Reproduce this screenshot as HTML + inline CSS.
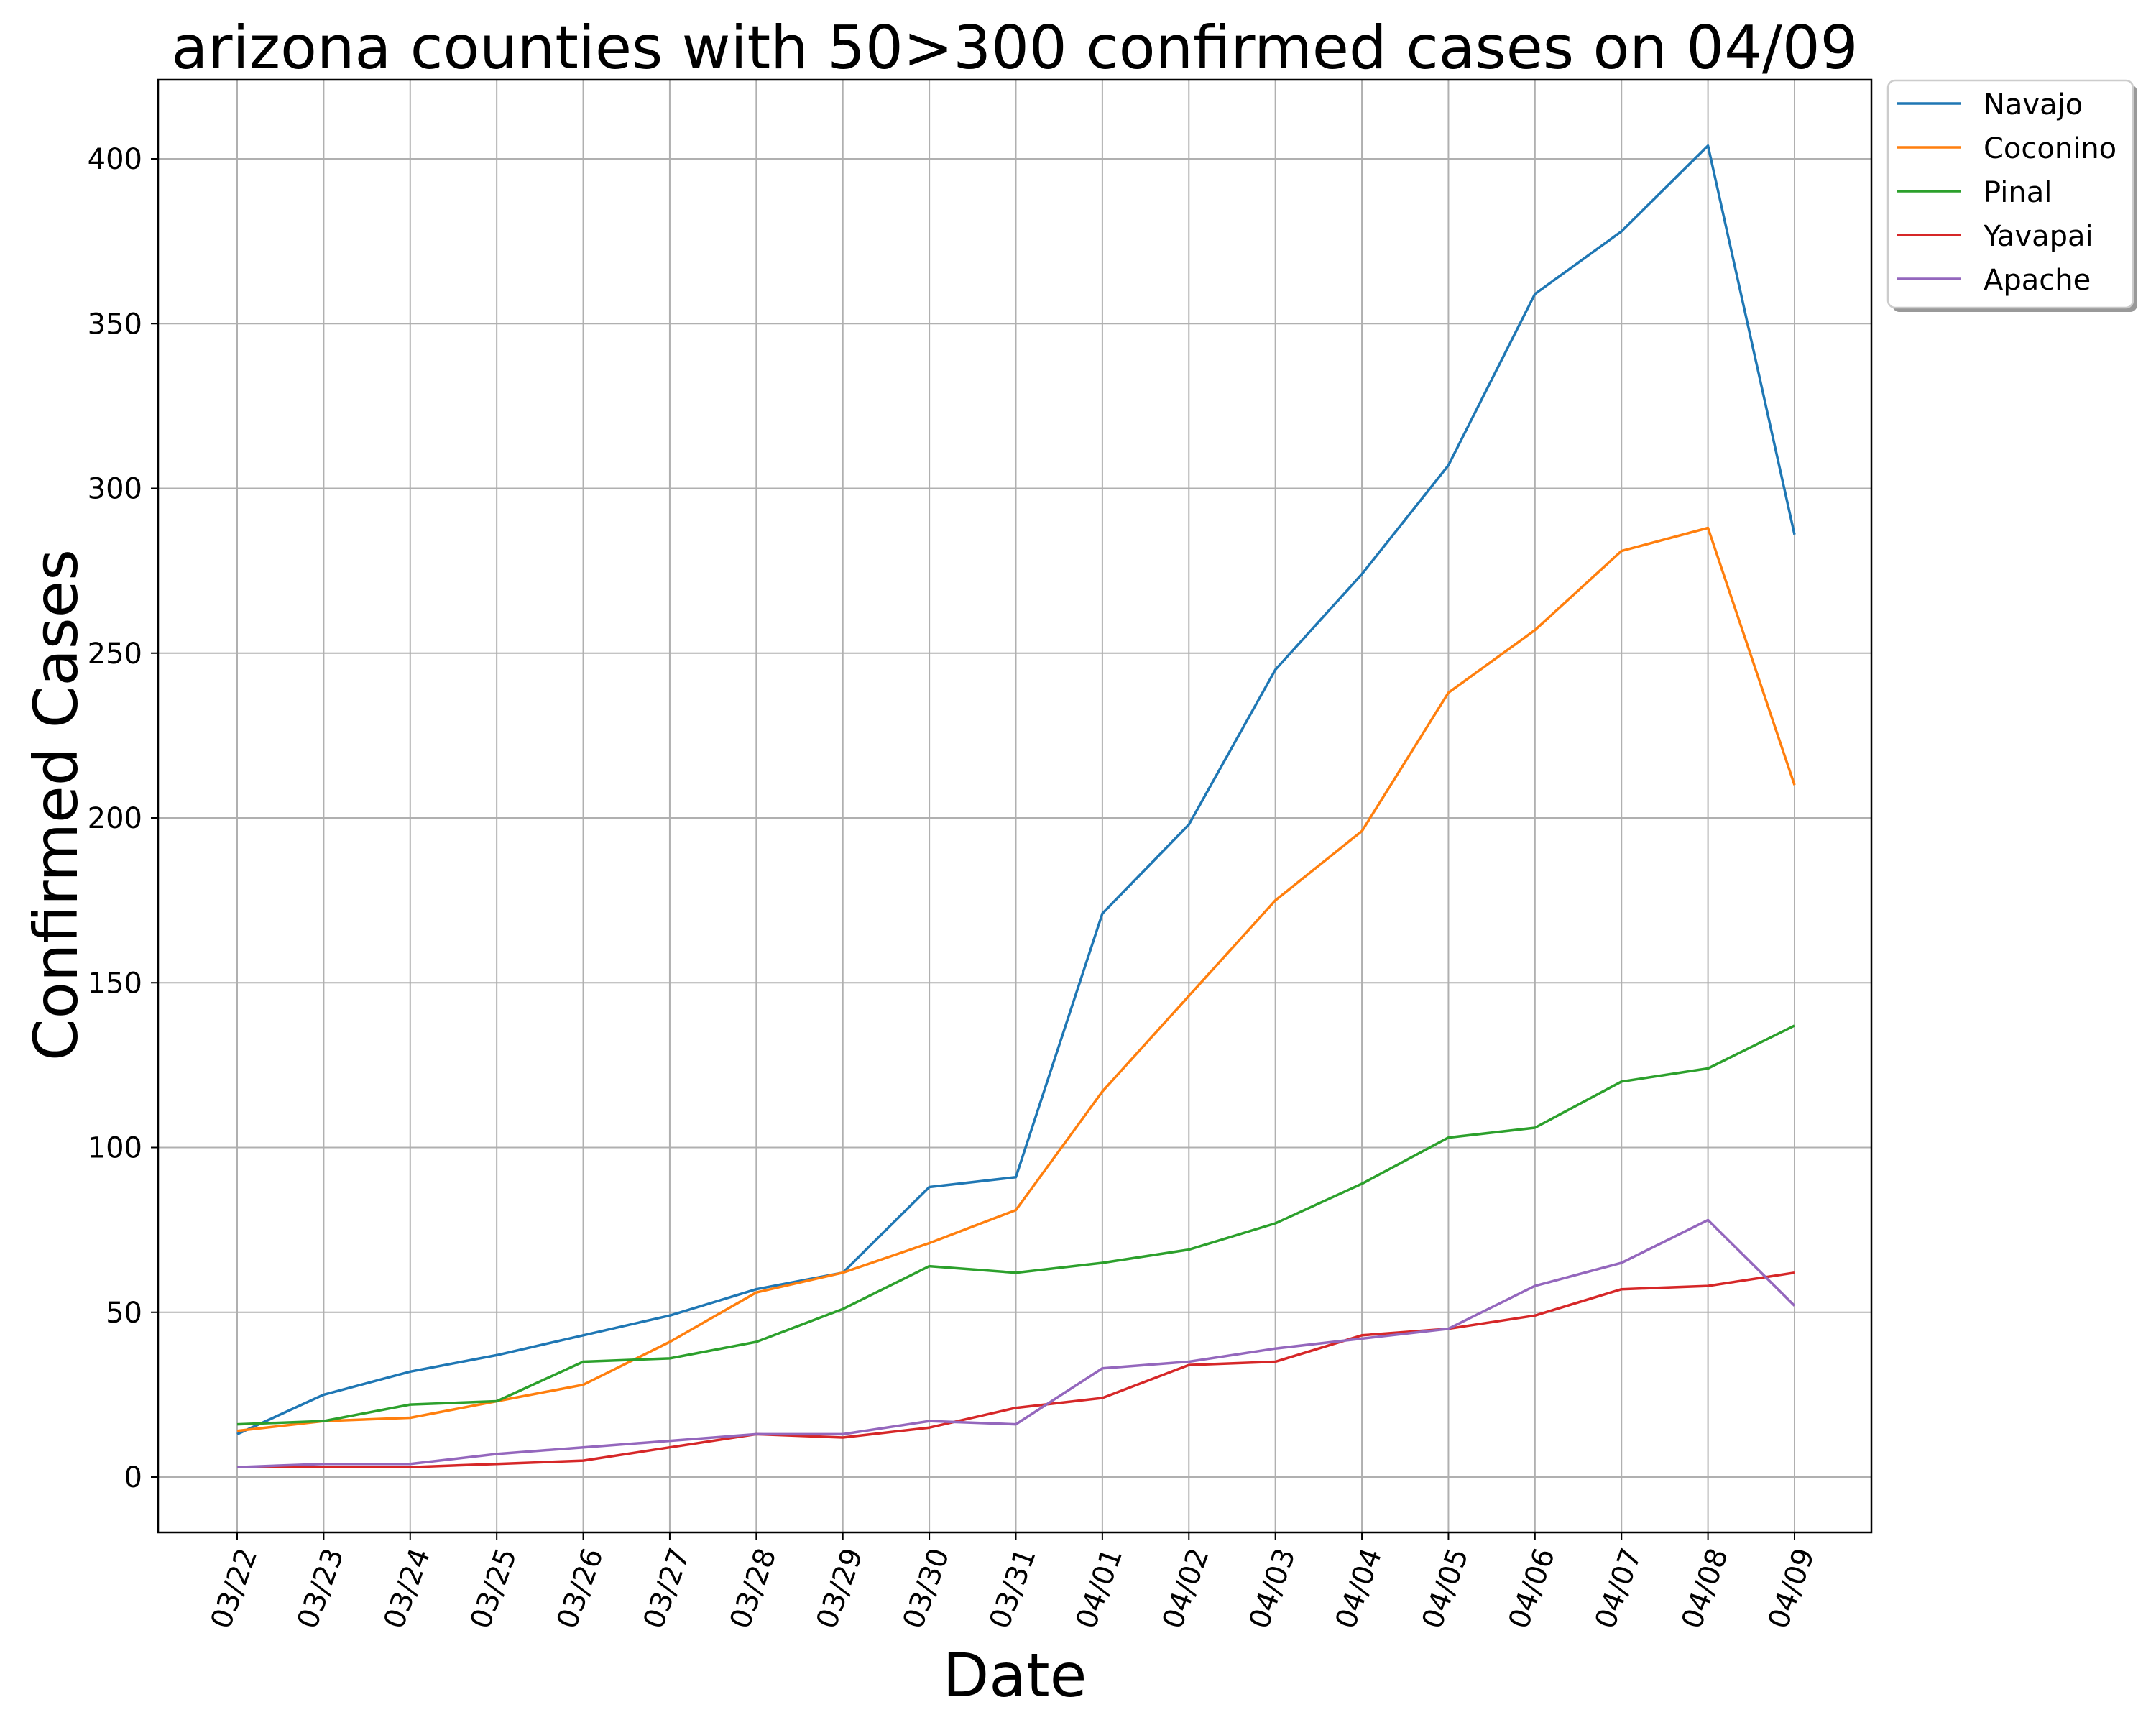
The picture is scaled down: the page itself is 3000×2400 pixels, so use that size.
<!DOCTYPE html>
<html><head><meta charset="utf-8"><style>
html,body{margin:0;padding:0;background:#fff;}
svg{display:block;font-family:"DejaVu Sans","Liberation Sans",sans-serif;}
</style></head><body>
<svg id="chart" width="3000" height="2400" viewBox="0 0 3000 2400" xmlns="http://www.w3.org/2000/svg">
<rect width="3000" height="2400" fill="#fff"/>
<text x="1412" y="95" font-size="83" text-anchor="middle">arizona counties with 50&gt;300 confirmed cases on 04/09</text>
<g id="grid"></g>
<g id="series"></g>
<rect x="220" y="111" width="2384" height="2021" fill="none" stroke="#000" stroke-width="2.5"/>
<g id="ticks"></g>
<text x="1412" y="2360" font-size="84" text-anchor="middle">Date</text>
<text transform="translate(78,1120) rotate(-90)" font-size="84" text-anchor="middle" dominant-baseline="central">Confirmed Cases</text>
<g id="legend">
<rect x="2633" y="118" width="341" height="316" rx="10" fill="#999"/>
<rect x="2627" y="112" width="341" height="316" rx="10" fill="#fff" stroke="#ccc" stroke-width="2.5"/>
</g>
</svg>
<script>
const dates = ["03/22","03/23","03/24","03/25","03/26","03/27","03/28","03/29","03/30","03/31","04/01","04/02","04/03","04/04","04/05","04/06","04/07","04/08","04/09"];
const seriesNames = ["Navajo","Coconino","Pinal","Yavapai","Apache"];
const navajo = [13,25,32,37,43,49,57,62,88,91,171,198,245,274,307,359,378,404,286];
const coconino = [14,17,18,23,28,41,56,62,71,81,117,146,175,196,238,257,281,288,210];
const pinal = [16,17,22,23,35,36,41,51,64,62,65,69,77,89,103,106,120,124,137];
const yavapai = [3,3,3,4,5,9,13,12,15,21,24,34,35,43,45,49,57,58,62];
const apache = [3,4,4,7,9,11,13,13,17,16,33,35,39,42,45,58,65,78,52];
const yTicks = [0,50,100,150,200,250,300,350,400];

const NS="http://www.w3.org/2000/svg";
const colors=["#1f77b4","#ff7f0e","#2ca02c","#d62728","#9467bd"];
const allSeries=[navajo,coconino,pinal,yavapai,apache];
const x0=330, x1=2497;
function xs(i){return x0+(x1-x0)*i/(dates.length-1);}
const yZero=2055, y400=221;
function ys(v){return yZero+(y400-yZero)*v/400;}
function mk(tag,attrs,parent){const e=document.createElementNS(NS,tag);for(const k in attrs)e.setAttribute(k,attrs[k]);parent.appendChild(e);return e;}
const grid=document.getElementById('grid'),ticks=document.getElementById('ticks'),ser=document.getElementById('series'),leg=document.getElementById('legend');
dates.forEach((d,i)=>{
  const x=xs(i);
  const g=mk('line',{x1:x,y1:111,x2:x,y2:2132,stroke:'#b0b0b0','stroke-width':2},grid);
  
  
  const t=mk('line',{x1:x,y1:2132,x2:x,y2:2142,stroke:'#000','stroke-width':2},ticks);
  
  
  const lb=mk('text',{transform:`translate(${x-4},${2210}) rotate(-70)`,'font-size':40,'text-anchor':'middle','dominant-baseline':'central'},ticks);
  lb.textContent=d;
  
  
});
yTicks.forEach(v=>{
  const y=ys(v);
  const g=mk('line',{x1:220,y1:y,x2:2604,y2:y,stroke:'#b0b0b0','stroke-width':2},grid);
  
  
  const t=mk('line',{x1:210,y1:y,x2:220,y2:y,stroke:'#000','stroke-width':2},ticks);
  
  
  const lb=mk('text',{x:198,y:y+14,'font-size':40,'text-anchor':'end'},ticks);
  lb.textContent=v;
  
  
});
allSeries.forEach((s,k)=>{
  const pts=s.map((v,i)=>xs(i).toFixed(1)+','+ys(v).toFixed(1)).join(' ');
  const p=mk('polyline',{points:pts,fill:'none',stroke:colors[k],'stroke-width':3.5,'stroke-linejoin':'round'},ser);
  
  
  const ly=144+61*k;
  const ll=mk('line',{x1:2640,y1:ly,x2:2728,y2:ly,stroke:colors[k],'stroke-width':3.5},leg);
  
  
  const lt=mk('text',{x:2760,y:ly+15,'font-size':40},leg);
  lt.textContent=seriesNames[k];
  
  
});
</script>
</body></html>
